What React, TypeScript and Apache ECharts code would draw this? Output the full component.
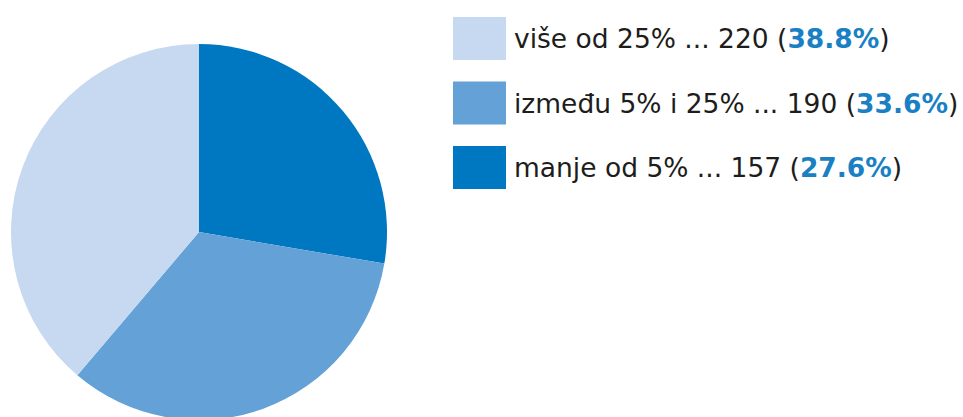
import React, { useEffect, useRef } from "react";
import * as echarts from "echarts";

const categories = ["manje od 5%", "između 5% i 25%", "više od 25%"];
const values = [157, 190, 220];
const percentLabels = ["27.6%", "33.6%", "38.8%"];
const colors = ["#0077c1", "#63a1d6", "#c6d9f0"];
const legendOrder = ["više od 25%", "između 5% i 25%", "manje od 5%"];

export default function App() {
  const ref = useRef<HTMLDivElement>(null);
  useEffect(() => {
    if (!ref.current) return;
    const chart = echarts.init(ref.current, null, { renderer: "svg" });
    const data = categories.map((c, i) => ({
      name: c,
      value: values[i],
      itemStyle: { color: colors[i] },
    }));
    chart.setOption({
      animation: false,
      backgroundColor: "#ffffff",
      legend: {
        orient: "vertical",
        left: 453,
        top: 17,
        padding: 0,
        itemWidth: 53,
        itemHeight: 43,
        itemGap: 21.5,
        icon: "rect",
        selectedMode: false,
        data: legendOrder,
        formatter: (name: string) => {
          const i = categories.indexOf(name);
          return `{t|${name} ... ${values[i]} (}{p|${percentLabels[i]}}{t|)}`;
        },
        textStyle: {
          padding: [0, 0, 0, 3],
          rich: {
            t: { fontFamily: "DejaVu Sans", fontSize: 26.5, color: "#1d1d1b" },
            p: { fontFamily: "DejaVu Sans", fontSize: 26.5, fontWeight: "bold", color: "#1a80c4" },
          },
        },
      },
      series: [
        {
          type: "pie",
          center: [199, 232],
          radius: 188,
          startAngle: 90,
          clockwise: true,
          label: { show: false },
          labelLine: { show: false },
          emphasis: { disabled: true },
          itemStyle: { borderWidth: 0 },
          data,
        },
      ],
    });
    return () => chart.dispose();
  }, []);
  return (
    <div
      ref={ref}
      style={{ position: "fixed", left: 0, top: 0, width: 963, height: 417 }}
    />
  );
}
